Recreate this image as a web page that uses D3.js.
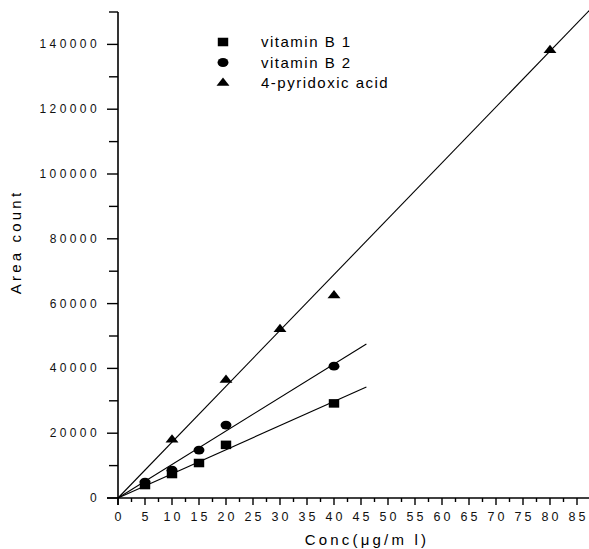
<!DOCTYPE html>
<html><head><meta charset="utf-8">
<script src="https://cdn.jsdelivr.net/npm/d3@7"></script>
<style>body{margin:0;background:#fff}svg{display:block}</style>
</head><body>
<script>
const seriesNames = ["vitamin B 1", "vitamin B 2", "4-pyridoxic acid"];
const concB1 = [5, 10, 15, 20, 40];
const areaB1 = [4000, 7400, 10800, 16400, 29200];
const concB2 = [5, 10, 15, 20, 40];
const areaB2 = [4900, 8600, 14800, 22500, 40700];
const concPA = [10, 20, 30, 40, 80];
const areaPA = [18000, 36400, 52100, 62500, 138200];
const fitSlopes = [745, 1033, 1724];
const fitEnds = [46, 46, 87.3];
const xTicks = d3.range(0, 86, 5);
const yTicks = d3.range(0, 140001, 20000);

const W = 589, H = 549;
const svg = d3.select("body").append("svg").attr("width", W).attr("height", H);
const x = d3.scaleLinear().domain([0, 85]).range([118, 577]);
const y = d3.scaleLinear().domain([0, 150000]).range([498, 12]);
const font = "Arial, 'Liberation Sans', sans-serif";

// axes lines
svg.append("line").attr("x1", 107).attr("x2", 589).attr("y1", y(0)).attr("y2", y(0)).attr("stroke", "#000").attr("stroke-width", 1.6);
svg.append("line").attr("x1", x(0)).attr("x2", x(0)).attr("y1", y(150000)).attr("y2", 505).attr("stroke", "#000").attr("stroke-width", 1.6);

// x ticks
d3.range(0, 88, 2.5).forEach(v => {
  const major = v % 5 === 0;
  svg.append("line").attr("x1", x(v)).attr("x2", x(v)).attr("y1", y(0)).attr("y2", y(0) + (major ? 7 : 4)).attr("stroke", "#000").attr("stroke-width", 1.4);
});
svg.selectAll(".xl").data(xTicks).enter().append("text")
  .attr("x", d => x(d) + 1.5).attr("y", 521).attr("text-anchor", "middle")
  .attr("font-family", font).attr("font-size", 12.5).attr("letter-spacing", 3)
  .attr("fill", "#111").text(d => d);

// y ticks
d3.range(0, 150001, 10000).forEach(v => {
  const major = v % 20000 === 0;
  svg.append("line").attr("x1", x(0)).attr("x2", x(0) - (major ? 11 : 9)).attr("y1", y(v)).attr("y2", y(v)).attr("stroke", "#000").attr("stroke-width", 1.4);
});
svg.selectAll(".yl").data(yTicks).enter().append("text")
  .attr("x", 100).attr("y", d => y(d) + 4).attr("text-anchor", "end")
  .attr("font-family", font).attr("font-size", 12).attr("letter-spacing", 3.4)
  .attr("fill", "#111").text(d => d);

// axis titles
svg.append("text").attr("x", 367).attr("y", 545).attr("text-anchor", "middle")
  .attr("font-family", font).attr("font-size", 15).attr("letter-spacing", 3.2)
  .text("Conc(μg/m l)");
svg.append("text").attr("transform", "translate(21,242) rotate(-90)").attr("text-anchor", "middle")
  .attr("font-family", font).attr("font-size", 15).attr("letter-spacing", 3.2)
  .text("Area count");

// fit lines
fitSlopes.forEach((s, i) => {
  svg.append("line").attr("x1", x(0)).attr("y1", y(0)).attr("x2", x(fitEnds[i])).attr("y2", y(s * fitEnds[i]))
    .attr("stroke", "#000").attr("stroke-width", 1.1);
});

const sq = d3.symbol().type(d3.symbolSquare).size(90);
const ci = d3.symbol().type(d3.symbolCircle).size(85);
const tr = d3.symbol().type(d3.symbolTriangle).size(55);
const gens = [sq, ci, tr];
const scales = ["1.1,0.9", "1.05,0.85", "1.15,0.85"];

function drawPts(cx, cy, k) {
  cx.forEach((c, i) => {
    svg.append("path").attr("d", gens[k]()).attr("fill", "#000")
      .attr("transform", `translate(${x(c)},${y(cy[i])}) scale(${scales[k]})`);
  });
}
drawPts(concB1, areaB1, 0);
drawPts(concB2, areaB2, 1);
drawPts(concPA, areaPA, 2);

// legend
seriesNames.forEach((n, i) => {
  const ly = 42 + i * 20.5;
  svg.append("path").attr("d", gens[i]()).attr("fill", "#000")
    .attr("transform", `translate(223,${ly}) scale(${scales[i]})`);
  svg.append("text").attr("x", 261).attr("y", ly + 5).attr("font-family", font)
    .attr("font-size", 15).attr("letter-spacing", 1.5).text(n);
});
</script>
</body></html>
